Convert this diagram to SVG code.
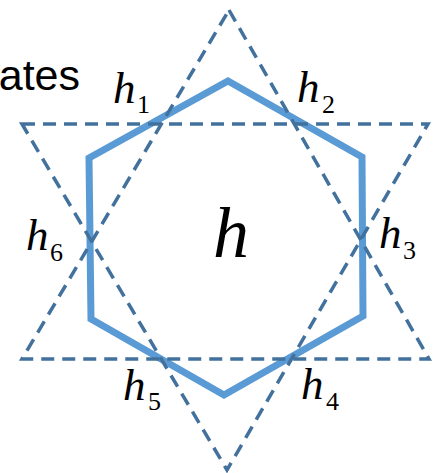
<svg xmlns="http://www.w3.org/2000/svg" width="442" height="473" viewBox="0 0 442 473">
<style>
.hex{fill:none;stroke:#5B9BD5;stroke-width:7;stroke-linejoin:miter}
.tri{fill:none;stroke:#41719C;stroke-width:3.5;stroke-dasharray:13 8}
.m{font-family:"Liberation Serif","DejaVu Serif",serif;font-style:italic;fill:#000}
.sub{font-family:"Liberation Serif","DejaVu Serif",serif;font-size:26px;fill:#000}
.lbl{font-family:"Liberation Sans","DejaVu Sans",sans-serif;font-size:43px;fill:#000}
</style>
<rect width="442" height="473" fill="#fff"/>
<text class="lbl" x="80" y="90" text-anchor="end">ates</text>
<g id="hexagon">
<polygon class="hex" points="228,81 362,157 363,316 224,395 91,319 89,158"/>
</g>
<g id="connectors">
<polygon class="tri" points="229,10 429,359 22,359"/>
<polygon class="tri" points="22,124 428,124 227,470"/>
</g>
<g id="h"><text class="m" x="213" y="257" font-size="72">h</text></g>
<g id="h1"><text class="m" x="113" y="103" font-size="45">h</text><text class="sub" x="137" y="113">1</text></g>
<g id="h2"><text class="m" x="297" y="102" font-size="45">h</text><text class="sub" x="322" y="113">2</text></g>
<g id="h3"><text class="m" x="379" y="248" font-size="45">h</text><text class="sub" x="403" y="259">3</text></g>
<g id="h4"><text class="m" x="301" y="399" font-size="45">h</text><text class="sub" x="326" y="410">4</text></g>
<g id="h5"><text class="m" x="123" y="400" font-size="45">h</text><text class="sub" x="148" y="410">5</text></g>
<g id="h6"><text class="m" x="26" y="250" font-size="45">h</text><text class="sub" x="50" y="261">6</text></g>
</svg>
